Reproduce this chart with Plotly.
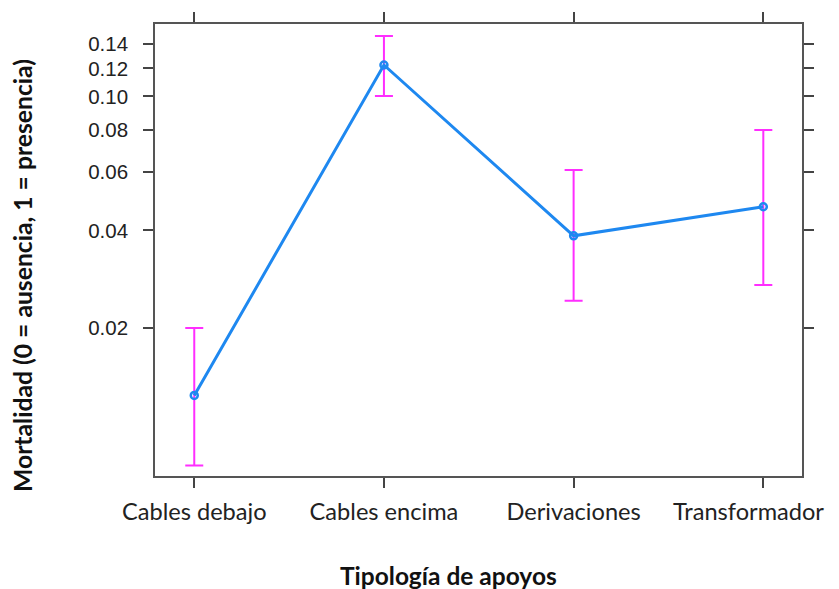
import numpy as np
import plotly.graph_objects as go

categories = ["Cables debajo", "Cables encima", "Derivaciones", "Transformador"]
fit = [0.0123, 0.1226, 0.0385, 0.0472]
upper = [0.0200, 0.1473, 0.0609, 0.0799]
lower = [0.0074, 0.1002, 0.0243, 0.0272]
tick_values = [0.02, 0.04, 0.06, 0.08, 0.10, 0.12, 0.14]
tick_labels = ["0.02", "0.04", "0.06", "0.08", "0.10", "0.12", "0.14"]


def logit(p):
    p = np.asarray(p, dtype=float)
    return np.log(p / (1 - p))


xi = list(range(len(categories)))
yf = logit(fit)
yu = logit(upper)
yl = logit(lower)

# last label nudged left (as in the reference) so it stays inside the page
x_ticktext = list(categories)
x_ticktext[-1] = x_ticktext[-1] + "\u00a0" * 5

fig = go.Figure()
fig.add_trace(go.Scatter(
    x=xi, y=yf, mode="markers",
    marker=dict(size=0.1, color="rgba(0,0,0,0)"),
    error_y=dict(type="data", symmetric=False, array=list(yu - yf), arrayminus=list(yf - yl),
                 color="#FF2EFF", thickness=2, width=9),
    showlegend=False, hoverinfo="skip"))
fig.add_trace(go.Scatter(
    x=xi, y=yf, mode="lines+markers",
    line=dict(color="#1E88F0", width=3),
    marker=dict(symbol="circle-open", size=7, color="#1E88F0", line=dict(width=2.5, color="#1E88F0")),
    showlegend=False))

axis_common = dict(showline=True, linecolor="#555555", linewidth=1.6, mirror="ticks",
                   ticks="outside", ticklen=10, tickwidth=1.6, tickcolor="#444444",
                   showgrid=False, zeroline=False, automargin=False, ticklabeloverflow="allow")

# plot area in figure coordinates (page has an 8px body margin)
L, R, T, B = 147, 794, 16, 468
W, H = R - L, B - T

fig.update_xaxes(range=[-0.207, 3.204], tickvals=xi, ticktext=x_ticktext,
                 tickfont=dict(family="Lato, Carlito, sans-serif", size=23.6, color="#222222"),
                 ticklabelstandoff=4, **axis_common)
fig.update_yaxes(range=[-4.975, -1.668], tickvals=list(logit(tick_values)), ticktext=tick_labels,
                 tickfont=dict(family="Liberation Sans, Arial, sans-serif", size=20.5, color="#222222"),
                 ticklabelstandoff=11, **axis_common)

fig.add_annotation(text="<b>Tipología de apoyos</b>", xref="paper", yref="paper",
                   x=(440 - L) / W, y=(B - 567) / H, showarrow=False,
                   xanchor="center", yanchor="middle",
                   font=dict(family="Lato, Carlito, sans-serif", size=24.5, color="#111111"))
fig.add_annotation(text="<b>Mortalidad (0 = ausencia, 1 = presencia)</b>", xref="paper", yref="paper",
                   x=(14 - L) / W, y=(B - 268) / H, showarrow=False,
                   textangle=-90, xanchor="center", yanchor="middle",
                   font=dict(family="Lato, Carlito, sans-serif", size=24.7, color="#111111"))

fig.update_layout(width=839, height=589, margin=dict(l=L, r=839 - R, t=T, b=589 - B),
                  plot_bgcolor="white", paper_bgcolor="white")
fig.write_html("out.html")
